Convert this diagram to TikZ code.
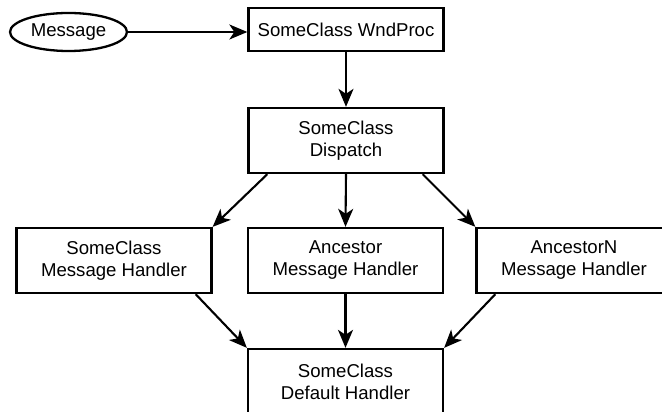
\documentclass[tikz,border=0pt]{standalone}
\usepackage{fontspec}
\setmainfont{Liberation Sans}
\usetikzlibrary{shapes.geometric,arrows.meta,calc}
\begin{document}
\begin{tikzpicture}[x=1pt,y=1pt,
  box/.style={draw,line width=2.3pt,rectangle,inner sep=0pt,minimum width=195pt,minimum height=65pt,align=center,font=\fontsize{18.6}{22}\selectfont},
  oval/.style={draw,line width=2.3pt,ellipse,inner sep=0pt,minimum width=117pt,minimum height=38pt,font=\fontsize{18.6}{22}\selectfont},
  arr/.style={line width=2.1pt,-{Stealth[length=18pt,width=15pt,inset=5pt]}}]
\useasboundingbox (0,0) rectangle (662,412);
\node[oval] (msg) at (68.5,380) {Message};
\node[box,minimum height=43pt] (wnd) at (346,382.5) {SomeClass WndProc};
\node[box] (disp) at (346,271.5) {SomeClass\\Dispatch};
\node[box] (h1) at (114,151.5) {SomeClass\\Message Handler};
\node[box] (h2) at (345.5,151.5) {Ancestor\\Message Handler};
\node[box] (h3) at (574,151.5) {AncestorN\\Message Handler};
\node[box] (def) at (345.5,30.5) {SomeClass\\Default Handler};
\draw[arr] (msg.east) -- (msg.east -| wnd.west);
\draw[arr] (wnd.south) -- (disp.north);
\draw[arr] ($(disp.south west)+(20,0)$) -- (h1.north east);
\draw[arr] (disp.south) -- (h2.north);
\draw[arr] ($(disp.south east)+(-22,0)$) -- (h3.north west);
\draw[arr] ($(h1.south east)+(-17,0)$) -- (def.north west);
\draw[arr] (h2.south) -- (def.north);
\draw[arr] ($(h3.south west)+(20,0)$) -- (def.north east);
\end{tikzpicture}
\end{document}
